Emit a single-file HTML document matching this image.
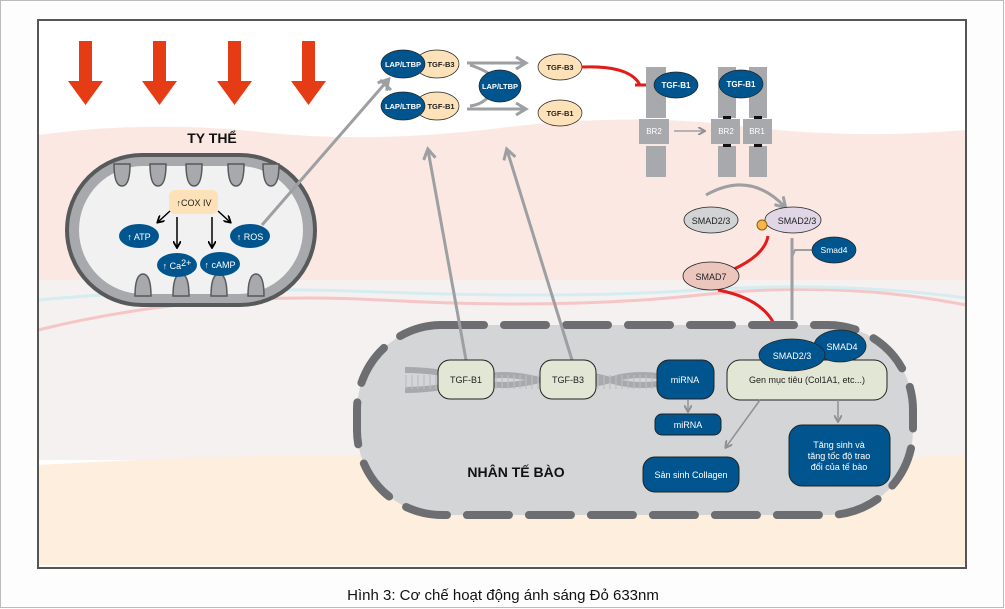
<!DOCTYPE html>
<html><head><meta charset="utf-8"><style>
html,body{margin:0;padding:0;background:#fdfdfd;width:1005px;height:609px;overflow:hidden}
svg{display:block}
text{font-family:"Liberation Sans",sans-serif}
</style></head><body>
<svg width="1005" height="609" viewBox="0 0 1005 609" xmlns="http://www.w3.org/2000/svg">
<defs>
<marker id="ga" markerWidth="8" markerHeight="8" refX="6" refY="4" orient="auto" markerUnits="userSpaceOnUse"><path d="M0,0 L7,4 L0,8" fill="none" stroke="#8f9194" stroke-width="2"/></marker>
<marker id="ka" markerWidth="8" markerHeight="8" refX="6" refY="4" orient="auto" markerUnits="userSpaceOnUse"><path d="M0,0 L7,4 L0,8" fill="none" stroke="#000" stroke-width="1.8"/></marker>
<marker id="gb" markerWidth="14" markerHeight="14" refX="10" refY="7" orient="auto" markerUnits="userSpaceOnUse"><path d="M1,1 L11,7 L1,13" fill="none" stroke="#9d9fa2" stroke-width="3"/></marker>
</defs>
<rect x="0.5" y="0.5" width="1003" height="607" fill="#fdfdfd" stroke="#bbb"/>
<!-- background layers -->
<rect x="38" y="20" width="928" height="548" fill="#fff"/>
<path d="M38,135 Q150,120 260,132 T500,128 T740,126 T966,130 L966,290 L38,290Z" fill="#fbe8e2"/>
<rect x="38" y="280" width="928" height="180" fill="#f5f1f0"/>
<path d="M38,330 Q200,290 380,300 T700,295 T966,305" stroke="#f6c5c5" stroke-width="3" fill="none"/>
<path d="M38,300 Q200,285 380,292 T700,290 T966,298" stroke="#d5ecf0" stroke-width="3" fill="none"/>
<path d="M38,465 Q300,450 500,458 T966,455 L966,565 L38,565Z" fill="#fdeedd"/>
<rect x="38" y="20" width="928" height="548" fill="none" stroke="#555" stroke-width="2"/>
<!-- red arrows -->
<g fill="#e63c16">
<path d="M79,41h13v40h11l-17.5,24l-17.5,-24h11z"/>
<path d="M153,41h13v40h11l-17.5,24l-17.5,-24h11z"/>
<path d="M228,41h13v40h11l-17.5,24l-17.5,-24h11z"/>
<path d="M302,41h13v40h11l-17.5,24l-17.5,-24h11z"/>
</g>
<!-- mitochondrion -->
<text x="212" y="143" font-size="14" font-weight="bold" text-anchor="middle" fill="#111">TY THỂ</text>
<rect x="67" y="155" width="248" height="150" rx="75" fill="#a7a9ac" stroke="#58595b" stroke-width="4"/>
<rect x="79" y="166" width="224" height="128" rx="64" fill="#f1f1f2"/>
<g fill="#a7a9ac" stroke="#58595b" stroke-width="1.5">
<path d="M114,164 q0,22 8,22 q8,0 8,-22z"/><path d="M150,164 q0,22 8,22 q8,0 8,-22z"/><path d="M186,164 q0,22 8,22 q8,0 8,-22z"/><path d="M228,164 q0,22 8,22 q8,0 8,-22z"/><path d="M263,164 q0,22 8,22 q8,0 8,-22z"/>
<path d="M135,296 q0,-22 8,-22 q8,0 8,22z"/><path d="M173,296 q0,-22 8,-22 q8,0 8,22z"/><path d="M211,296 q0,-22 8,-22 q8,0 8,22z"/><path d="M248,296 q0,-22 8,-22 q8,0 8,22z"/>
</g>
<rect x="169" y="190" width="49" height="24" rx="6" fill="#fde1b8"/>
<text x="194" y="206" font-size="9" text-anchor="middle" fill="#222">↑COX IV</text>
<g stroke="#000" stroke-width="1.5" marker-end="url(#ka)">
<line x1="170" y1="211" x2="158" y2="222"/><line x1="177" y1="217" x2="177" y2="247"/><line x1="212" y1="217" x2="212" y2="247"/><line x1="218" y1="211" x2="230" y2="222"/>
</g>
<g fill="#00558f"><ellipse cx="139" cy="236" rx="20" ry="12"/><ellipse cx="177" cy="265" rx="20" ry="12"/><ellipse cx="220" cy="264" rx="20" ry="12"/><ellipse cx="250" cy="236" rx="20" ry="12"/></g>
<g fill="#fff" font-size="9" text-anchor="middle"><text x="139" y="240">↑ ATP</text><text x="177" y="269">↑ Ca<tspan dy="-3">2+</tspan></text><text x="220" y="268">↑ cAMP</text><text x="250" y="240">↑ ROS</text></g>
<line x1="262" y1="225" x2="388" y2="80" stroke="#9d9fa2" stroke-width="3" marker-end="url(#gb)"/>
<!-- LAP complexes -->
<g stroke="#9d9fa2" stroke-width="3" fill="none">
<path d="M380,80 L391,90"/><line x1="467" y1="63" x2="525" y2="63" marker-end="url(#gb)"/><line x1="467" y1="109" x2="525" y2="109" marker-end="url(#gb)"/>
<path d="M470,65 Q485,70 492,76"/><path d="M470,106 Q485,104 492,92"/>
</g>
<g stroke="#222" stroke-width="0.7">
<ellipse cx="437" cy="64" rx="22" ry="14" fill="#fde1b8"/><ellipse cx="403" cy="64" rx="22" ry="14" fill="#00558f"/>
<ellipse cx="437" cy="106" rx="22" ry="14" fill="#fde1b8"/><ellipse cx="403" cy="106" rx="22" ry="14" fill="#00558f"/>
<ellipse cx="500" cy="86" rx="21" ry="16" fill="#00558f"/>
<ellipse cx="560" cy="67" rx="22" ry="13" fill="#fde1b8"/><ellipse cx="560" cy="113" rx="22" ry="13" fill="#fde1b8"/>
</g>
<g font-size="7.5" text-anchor="middle" font-weight="bold"><text x="403" y="67" fill="#fff">LAP/LTBP</text><text x="403" y="109" fill="#fff">LAP/LTBP</text><text x="500" y="89" fill="#fff">LAP/LTBP</text><text x="441" y="67" fill="#222">TGF-B3</text><text x="441" y="109" fill="#222">TGF-B1</text><text x="560" y="70" fill="#222">TGF-B3</text><text x="560" y="116" fill="#222">TGF-B1</text></g>
<path d="M582,67 Q630,65 640,85" stroke="#e31b1b" stroke-width="3" fill="none"/><line x1="635" y1="85" x2="646" y2="85" stroke="#e31b1b" stroke-width="3"/>
<!-- receptors -->
<g fill="#a7a9ac"><rect x="646" y="67" width="20" height="51"/><rect x="639" y="119" width="30" height="25"/><rect x="646" y="146" width="20" height="31"/>
<rect x="718" y="67" width="18" height="51"/><rect x="711" y="119" width="29" height="25"/><rect x="718" y="146" width="18" height="31"/>
<rect x="749" y="67" width="18" height="51"/><rect x="743" y="119" width="29" height="25"/><rect x="749" y="146" width="18" height="31"/></g>
<g fill="#111"><rect x="723" y="116" width="8" height="3"/><rect x="754" y="116" width="8" height="3"/><rect x="723" y="144" width="8" height="3"/><rect x="754" y="144" width="8" height="3"/></g>
<g fill="#fff" font-size="8" text-anchor="middle"><text x="654" y="134">BR2</text><text x="726" y="134">BR2</text><text x="757" y="134">BR1</text></g>
<line x1="674" y1="131" x2="704" y2="131" stroke="#9d9fa2" stroke-width="1.5" marker-end="url(#ga)"/>
<ellipse cx="676" cy="85" rx="22" ry="13" fill="#00558f" stroke="#222" stroke-width="0.7"/><ellipse cx="741" cy="84" rx="22" ry="14" fill="#00558f" stroke="#222" stroke-width="0.7"/>
<g fill="#fff" font-size="8" text-anchor="middle" font-weight="bold"><text x="676" y="88">TGF-B1</text><text x="741" y="87">TGF-B1</text></g>
<!-- SMAD -->
<path d="M706,195 Q750,170 785,207" stroke="#9d9fa2" stroke-width="3" fill="none" marker-end="url(#gb)"/>
<ellipse cx="711" cy="220" rx="27" ry="13" fill="#d1d3d4" stroke="#222" stroke-width="0.8"/>
<ellipse cx="793" cy="220" rx="28" ry="13" fill="#e0d6e6" stroke="#222" stroke-width="0.8"/>
<circle cx="762" cy="225" r="5" fill="#f6b44a" stroke="#8a6010"/>
<text x="711" y="224" font-size="9" text-anchor="middle" fill="#222">SMAD2/3</text><text x="797" y="224" font-size="9" text-anchor="middle" fill="#222">SMAD2/3</text>
<line x1="792" y1="238" x2="792" y2="320" stroke="#9d9fa2" stroke-width="3"/>
<path d="M812,250 L795,250 L792,257" stroke="#9d9fa2" stroke-width="2" fill="none"/>
<ellipse cx="834" cy="250" rx="22" ry="13" fill="#00558f" stroke="#222" stroke-width="0.7"/><text x="834" y="253" font-size="8.5" fill="#fff" text-anchor="middle">Smad4</text>
<path d="M732,270 Q765,255 768,236" stroke="#e31b1b" stroke-width="3" fill="none"/>
<path d="M718,290 Q770,300 778,335" stroke="#e31b1b" stroke-width="3" fill="none"/>
<ellipse cx="711" cy="276" rx="28" ry="14" fill="#ecc6bc" stroke="#222" stroke-width="0.8"/><text x="711" y="280" font-size="9" text-anchor="middle" fill="#222">SMAD7</text>
<!-- nucleus -->
<rect x="357" y="325" width="556" height="190" rx="85" fill="#d4d5d6" stroke="#6d6e71" stroke-width="8" stroke-dasharray="42,20" stroke-linecap="round"/>
<!-- DNA -->
<g stroke="#a7a9ac" stroke-width="6" fill="none"><path d="M405,370 Q440,370 470,380 T540,380 T610,380 T680,380"/><path d="M405,390 Q440,390 470,380 T540,380 T610,380 T680,380" transform="scale(1,1)"/></g>
<path d="M405,382 L680,382" stroke="#bcbec0" stroke-width="14" stroke-dasharray="2,4" opacity="0.6"/>
<line x1="466" y1="360" x2="428" y2="150" stroke="#9d9fa2" stroke-width="3" marker-end="url(#gb)"/>
<line x1="572" y1="360" x2="507" y2="150" stroke="#9d9fa2" stroke-width="3" marker-end="url(#gb)"/>
<rect x="438" y="360" width="56" height="39" rx="12" fill="#e2e6d4" stroke="#222"/><text x="466" y="383" font-size="9" text-anchor="middle" fill="#222">TGF-B1</text>
<rect x="540" y="360" width="56" height="39" rx="12" fill="#e2e6d4" stroke="#222"/><text x="568" y="383" font-size="9" text-anchor="middle" fill="#222">TGF-B3</text>
<rect x="657" y="360" width="57" height="39" rx="12" fill="#00558f" stroke="#222"/><text x="685" y="383" font-size="9" text-anchor="middle" fill="#fff">miRNA</text>
<line x1="688" y1="400" x2="688" y2="411" stroke="#8f9194" stroke-width="1.5" marker-end="url(#ga)"/>
<rect x="655" y="414" width="66" height="21" rx="7" fill="#00558f" stroke="#222"/><text x="688" y="428" font-size="9" text-anchor="middle" fill="#fff">miRNA</text>
<rect x="727" y="360" width="160" height="40" rx="13" fill="#e2e6d4" stroke="#222"/><text x="807" y="383" font-size="9" text-anchor="middle" fill="#222">Gen mục tiêu (Col1A1, etc...)</text>
<ellipse cx="840" cy="346" rx="26" ry="16" fill="#00558f" stroke="#222" stroke-width="0.8"/><text x="842" y="350" font-size="9" text-anchor="middle" fill="#fff">SMAD4</text>
<ellipse cx="792" cy="355" rx="33" ry="16" fill="#00558f" stroke="#222" stroke-width="0.8"/><text x="792" y="359" font-size="9" text-anchor="middle" fill="#fff">SMAD2/3</text>
<line x1="760" y1="400" x2="726" y2="447" stroke="#8f9194" stroke-width="1.5" marker-end="url(#ga)"/>
<line x1="838" y1="400" x2="838" y2="421" stroke="#8f9194" stroke-width="1.5" marker-end="url(#ga)"/>
<rect x="643" y="457" width="96" height="35" rx="12" fill="#00558f" stroke="#222"/><text x="691" y="478" font-size="9" text-anchor="middle" fill="#fff">Sản sinh Collagen</text>
<rect x="789" y="425" width="101" height="61" rx="13" fill="#00558f" stroke="#222"/>
<g font-size="9" text-anchor="middle" fill="#fff"><text x="839" y="448">Tăng sinh và</text><text x="839" y="459">tăng tốc độ trao</text><text x="839" y="470">đổi của tế bào</text></g>
<text x="516" y="477" font-size="14" font-weight="bold" text-anchor="middle" fill="#111">NHÂN TẾ BÀO</text>
<text x="503" y="600" font-size="15" font-family="Liberation Serif,serif" text-anchor="middle" fill="#111">Hình 3: Cơ chế hoạt động ánh sáng Đỏ 633nm</text>
</svg>
</body></html>
